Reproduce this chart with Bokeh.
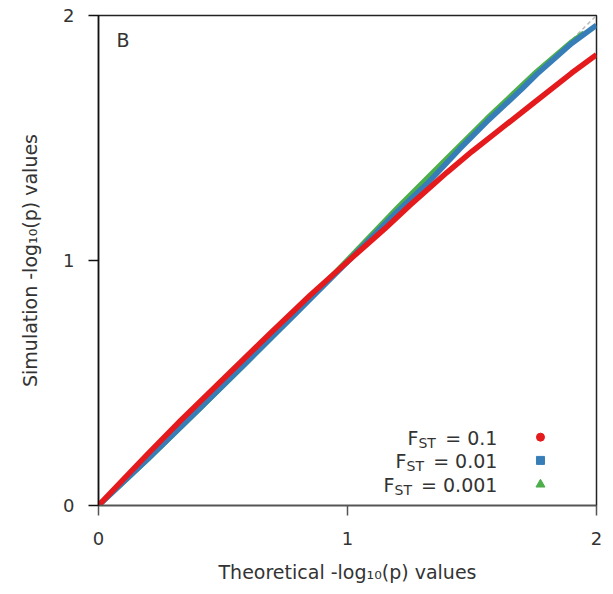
from bokeh.plotting import figure
from bokeh.models import Range1d, Label, FixedTicker
from bokeh.embed import file_html
from bokeh.resources import INLINE

# --- data ---
theo_red = [0, 0.1, 0.2, 0.33, 0.5, 0.69, 0.85, 1.0, 1.15, 1.25, 1.4, 1.5, 1.6, 1.75, 1.9, 2.0]
sim_red = [0, 0.107, 0.213, 0.347, 0.515, 0.703, 0.858, 0.995, 1.13, 1.225, 1.36, 1.445, 1.525, 1.645, 1.765, 1.84]

theo_blue = [0, 0.2, 0.4, 0.6, 0.8, 1.0, 1.2, 1.32, 1.45, 1.56, 1.7, 1.76, 1.9, 2.0]
sim_blue = [0, 0.192, 0.39, 0.59, 0.792, 0.995, 1.2, 1.314, 1.455, 1.567, 1.7, 1.76, 1.886, 1.96]

theo_green = [0, 0.2, 0.4, 0.6, 0.8, 1.0, 1.2, 1.4, 1.56, 1.76, 1.9, 1.95]
sim_green = [0, 0.19, 0.388, 0.588, 0.792, 1.003, 1.215, 1.418, 1.58, 1.772, 1.893, 1.93]

diag = [0, 2]
ticks = [0, 1, 2]
legend_names = ["0.1", "0.01", "0.001"]
colors = ["#e41a1c", "#377eb8", "#4daf4a"]

FONT = "DejaVu Sans"
TXT = "#333333"

p = figure(frame_width=498, frame_height=490, output_backend="svg", toolbar_location=None,
           x_range=Range1d(0, 2), y_range=Range1d(0, 2),
           min_border_left=98, min_border_top=15, min_border_right=12, min_border_bottom=82)
p.background_fill_color = "white"
p.border_fill_color = "white"
p.outline_line_color = "#222222"
p.outline_line_width = 1.5
p.xgrid.visible = False
p.ygrid.visible = False

for ax in (p.xaxis[0], p.yaxis[0]):
    ax.ticker = FixedTicker(ticks=ticks)
    ax.minor_tick_line_color = None
    ax.major_tick_in = 0
    ax.major_tick_out = 10
    ax.major_label_text_font = FONT
    ax.major_label_text_font_size = "18px"
    ax.major_label_text_color = TXT
    ax.axis_label_text_font = FONT
    ax.axis_label_text_font_size = "19px"
    ax.axis_label_text_color = TXT
    ax.axis_label_text_font_style = "normal"
    ax.axis_line_width = 1.5
    ax.major_tick_line_width = 1.5

p.xaxis[0].axis_line_color = "#555555"
p.xaxis[0].major_tick_line_color = "#555555"
p.yaxis[0].axis_line_color = "#111111"
p.yaxis[0].major_tick_line_color = "#111111"
p.xaxis[0].major_label_standoff = 16
p.yaxis[0].major_label_standoff = 14
p.xaxis[0].axis_label = "Theoretical -log\u2081\u2080(p) values"
p.yaxis[0].axis_label = "Simulation -log\u2081\u2080(p) values"
p.xaxis[0].axis_label_standoff = 13
p.yaxis[0].axis_label_standoff = 19

# diagonal reference
p.line(diag, diag, line_color="#bbbbbb", line_dash="4 3", line_width=1.5)

# curves
p.line(theo_green, sim_green, line_color=colors[2], line_width=5)
p.line(theo_blue, sim_blue, line_color=colors[1], line_width=5.5)
p.line(theo_red, sim_red, line_color=colors[0], line_width=5.5)

# panel letter
p.add_layout(Label(x=0.072, y=1.898, text="B", text_font=FONT, text_font_size="19px",
                   text_color=TXT, text_baseline="middle", text_align="left"))

# legend (composed for the subscript)
rows_y = [0.277, 0.182, 0.084]
f_x = [1.241, 1.193, 1.145]
st_x = [1.285, 1.237, 1.189]
for name, col, yy, fx, sx, mk in zip(legend_names, colors, rows_y, f_x, st_x,
                                      ["circle", "square", "triangle"]):
    p.add_layout(Label(x=fx, y=yy, text="F", text_font=FONT, text_font_size="19px",
                       text_color=TXT, text_baseline="middle", text_align="left"))
    p.add_layout(Label(x=sx, y=yy - 0.02, text="ST", text_font=FONT, text_font_size="14px",
                       text_color=TXT, text_baseline="middle", text_align="left"))
    p.add_layout(Label(x=1.602, y=yy, text="= " + name, text_font=FONT, text_font_size="19px",
                       text_color=TXT, text_baseline="middle", text_align="right"))
    p.scatter([1.775], [yy + 0.002], marker=mk, size=8 if mk != "triangle" else 9,
              fill_color=col, line_color=col)

open("out.html", "w").write(file_html(p, INLINE))
